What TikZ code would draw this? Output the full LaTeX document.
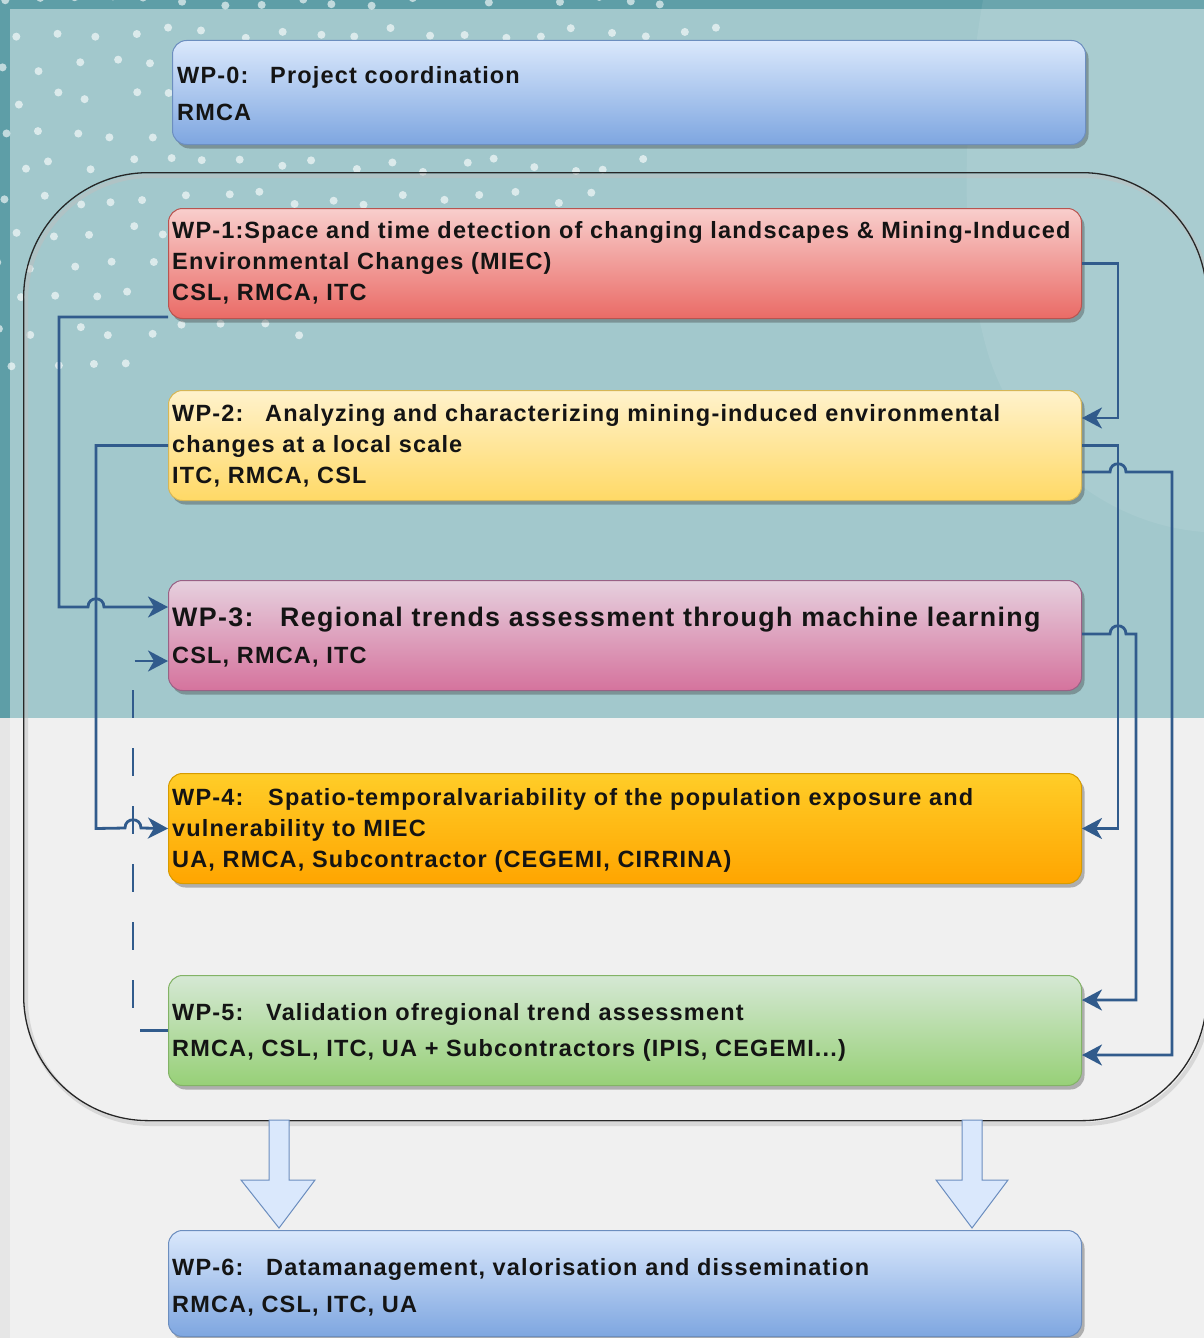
\documentclass[tikz,border=0pt]{standalone}
\usepackage{fontspec}
\newfontfamily\wpf{Liberation Sans}[LetterSpace=5]
\usetikzlibrary{arrows.meta,shadows,calc}
\definecolor{tealbg}{HTML}{A2C8CC}
\definecolor{tealdk}{HTML}{5E9EA7}
\definecolor{graybg}{HTML}{F0F0F0}
\definecolor{graydk}{HTML}{E6E6E6}
\definecolor{conn}{HTML}{315B8C}
\definecolor{bluetop}{HTML}{DAE8FC}\definecolor{bluebot}{HTML}{7EA6E0}\definecolor{bluedr}{HTML}{6C8EBF}
\definecolor{redtop}{HTML}{F8CECC}\definecolor{redbot}{HTML}{EA6B66}\definecolor{reddr}{HTML}{B85450}
\definecolor{yeltop}{HTML}{FFF2CC}\definecolor{yelbot}{HTML}{FFD966}\definecolor{yeldr}{HTML}{D6B656}
\definecolor{pintop}{HTML}{E6D0DE}\definecolor{pinbot}{HTML}{D5739D}\definecolor{pindr}{HTML}{996185}
\definecolor{oratop}{HTML}{FFCD28}\definecolor{orabot}{HTML}{FFA500}\definecolor{oradr}{HTML}{D79B00}
\definecolor{gretop}{HTML}{D5E8D4}\definecolor{grebot}{HTML}{97D077}\definecolor{gredr}{HTML}{82B366}
\tikzset{
  wpbox/.style={rounded corners=14pt, line width=1pt, anchor=north west, inner sep=0pt,
    minimum width=913pt, minimum height=110pt,
    drop shadow={opacity=0.35, shadow xshift=3pt, shadow yshift=-4pt, fill=black!80}},
  txt/.style={anchor=base west, inner sep=0pt, text=black!92,
    font={\wpf\bfseries\fontsize{23.5}{28}\selectfont}},
  bigtxt/.style={txt, font={\wpf\bfseries\fontsize{26.8}{32}\selectfont}},
  conn/.style={draw=conn, line width=2.8pt, line join=miter},
  tip/.style={-{Stealth[length=20pt, width=21pt, inset=6pt]}},
  dsh/.style={dash pattern=on 28pt off 30pt},
  blockarrow/.style={fill=bluetop, draw=bluedr, line width=1pt, line join=miter}
}
\begin{document}
\begin{tikzpicture}[x=1pt,y=-1pt]
\useasboundingbox (0,0) rectangle (1204,1338);
% background
\fill[tealbg] (0,0) rectangle (1204,718);
\fill[graybg] (0,718) rectangle (1204,1338);
\fill[tealdk] (0,0) rectangle (1204,9);
\fill[tealdk] (0,0) rectangle (10,718);
\fill[graydk] (0,718) rectangle (10,1338);
\fill[white, opacity=0.08] (983,0) .. controls (962,120) and (958,260) .. (990,360)
   .. controls (1025,460) and (1110,525) .. (1204,532) -- (1204,0) -- cycle;
% dots
\pgfmathsetseed{11}
\foreach \j in {0,...,11} {
  \foreach \i in {0,...,20} {
    \pgfmathsetmacro\xx{\i*37 + mod(\j,2)*18.5 + rand*8}
    \pgfmathsetmacro\yy{\j*33 + rand*7}
    \pgfmathtruncatemacro\inside{((\xx/720)^2+(\yy/370)^2<1) ? 1 : 0}
    \ifnum\inside=1 \fill[white, opacity=0.62] (\xx,\yy) circle (4); \fi
  }
}
% container
\draw[black!25, line width=4pt, opacity=0.5, rounded corners=125pt] (26,176) rectangle (1209,1124);
\node[draw=black!85, line width=1.3pt, rounded corners=125pt, inner sep=0pt,
      minimum width=1183pt, minimum height=948pt, anchor=north west] (cont) at (23,172) {};
% boxes
\node[wpbox, draw=bluedr, top color=bluetop, bottom color=bluebot, minimum width=913pt, minimum height=104pt] (wp0) at (172,40) {};
\node[wpbox, draw=reddr, top color=redtop, bottom color=redbot] (wp1) at (168,208) {};
\node[wpbox, draw=yeldr, top color=yeltop, bottom color=yelbot] (wp2) at (168,390) {};
\node[wpbox, draw=pindr, top color=pintop, bottom color=pinbot] (wp3) at (168,580) {};
\node[wpbox, draw=oradr, top color=oratop, bottom color=orabot] (wp4) at (168,773) {};
\node[wpbox, draw=gredr, top color=gretop, bottom color=grebot] (wp5) at (168,975) {};
\node[wpbox, draw=bluedr, top color=bluetop, bottom color=bluebot, minimum height=106pt] (wp6) at (168,1230) {};
% texts
\node[txt] (t0a) at (177,84) {\makebox[93pt][l]{WP-0:}Project coordination};
\node[txt] (t0b) at (177,120) {RMCA};
\node[txt] (t1a) at (172,238) {WP-1:\kern1pt Space and time detection of changing landscapes \& Mining-Induced};
\node[txt] (t1b) at (172,269) {Environmental Changes (MIEC)};
\node[txt] (t1c) at (172,300) {CSL, RMCA, ITC};
\node[txt] (t2a) at (172,421) {\makebox[93pt][l]{WP-2:}Analyzing and characterizing mining-induced environmental};
\node[txt] (t2b) at (172,452) {changes at a local scale};
\node[txt] (t2c) at (172,483) {ITC, RMCA, CSL};
\node[bigtxt] (t3a) at (172,626) {\makebox[108pt][l]{WP-3:}Regional trends assessment through machine learning};
\node[txt] (t3b) at (172,663) {CSL, RMCA, ITC};
\node[txt] (t4a) at (172,805) {\makebox[96pt][l]{WP-4:}Spatio-temporalvariability of the population exposure and};
\node[txt] (t4b) at (172,836) {vulnerability to MIEC};
\node[txt] (t4c) at (172,867) {UA, RMCA, Subcontractor (CEGEMI, CIRRINA)};
\node[txt] (t5a) at (172,1020) {\makebox[94pt][l]{WP-5:}Validation ofregional trend assessment};
\node[txt] (t5b) at (172,1056) {RMCA, CSL, ITC, UA + Subcontractors (IPIS, CEGEMI...)};
\node[txt] (t6a) at (172,1275) {\makebox[94pt][l]{WP-6:}Datamanagement, valorisation and dissemination};
\node[txt] (t6b) at (172,1312) {RMCA, CSL, ITC, UA};
% block arrows container -> WP-6
\draw[blockarrow] (269,1120) -- (289,1120) -- (289,1180) -- (315,1180) -- (279,1228)
   -- (241,1180) -- (269,1180) -- cycle;
\draw[blockarrow] (962,1120) -- (982,1120) -- (982,1180) -- (1008,1180) -- (972,1228)
   -- (936,1180) -- (962,1180) -- cycle;
% right side connectors
\coordinate (r1) at (1118,0);
\coordinate (r2) at (1136,0);
\coordinate (r3) at (1172,0);
\draw[conn, tip] (wp1.east) -| (r1 |- 0,418) -- (wp2.east |- 0,418);
\draw[conn, tip] (wp2.east) -| (r1 |- wp4.east) -- (wp4.east);
\draw[conn, tip] (wp2.east |- 0,472) -- (1110,472) .. controls (1110,461) and (1126,461) .. (1126,472)
   -| (r3 |- 0,1055) -- (wp5.east |- 0,1055);
\draw[conn, tip] (wp3.east |- 0,634) -- (1110,634) .. controls (1110,623) and (1126,623) .. (1126,634)
   -| (r2 |- 0,1000) -- (wp5.east |- 0,1000);
% left side connectors
\coordinate (l1) at (59,0);
\coordinate (l2) at (96,0);
\coordinate (l3) at (133,0);
\draw[conn, tip] (wp1.south west |- 0,317) -| (l1 |- 0,607) -- (88,607) .. controls (88,596) and (104,596) .. (104,607)
   -- (wp3.west |- 0,607);
\draw[conn, tip] (wp2.west) -| (l2 |- wp4.west) -- (125,828) .. controls (125,817) and (141,817) .. (141,828) -- (wp4.west);
\draw[conn, dsh, tip] (wp5.west) -| (l3 |- 0,661) -- (wp3.west |- 0,661);
\end{tikzpicture}
\end{document}
